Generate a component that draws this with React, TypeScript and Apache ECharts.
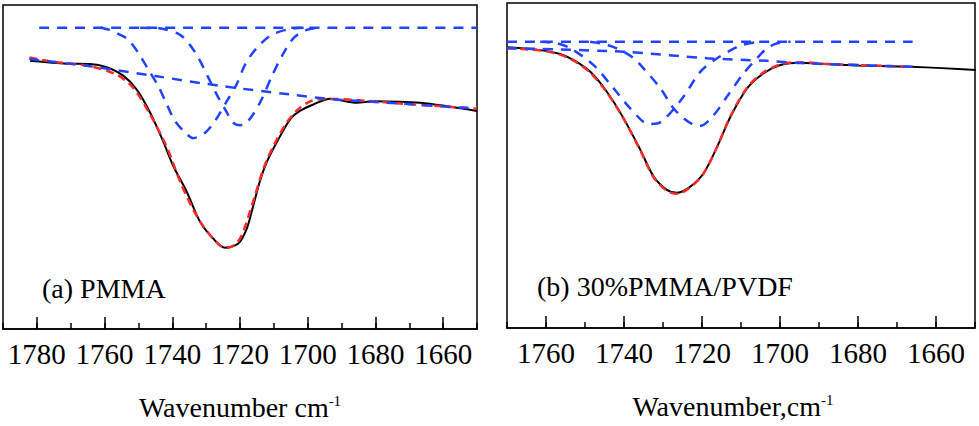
import React, { useEffect, useRef } from "react";
import * as echarts from "echarts";

// Panel (a) PMMA : [wavenumber cm-1, transmittance (a.u.)]
const pmmaMeasured: number[][] = [
  [1782, 82.8], [1771.2, 81.9], [1764.3, 81.8], [1759.4, 80.8], [1754.5, 78.2], [1750.5, 73.9],
  [1746.6, 66.9], [1742.6, 57.7], [1739.7, 50.3], [1735.7, 42.3], [1731.8, 33.1], [1727.9, 27.9],
  [1724.4, 25.1], [1720.5, 26.4], [1718, 31.0], [1716.1, 38.0], [1714.1, 45.7], [1712.1, 51.5],
  [1709.1, 57.7], [1705.2, 64.7], [1702.3, 67.3], [1698.3, 69.3], [1693.4, 71.1], [1685.5, 69.8],
  [1680.6, 70.3], [1666.8, 69.8], [1650.1, 67.3],
];
const pmmaFit: number[][] = [
  [1782.2, 83.8], [1776.1, 82.6], [1764.3, 81.1], [1756.4, 78.5], [1751.5, 74.4], [1746.6, 66.3],
  [1741.6, 56.1], [1737.2, 44.3], [1731.8, 33.2], [1725.4, 25.4], [1723.4, 25.1], [1720, 27.9],
  [1716.5, 38.1], [1713.1, 49.4], [1710.1, 56.5], [1706.2, 63.7], [1702.3, 68.3], [1697.3, 70.9],
  [1693.4, 71.0], [1672.7, 69.6], [1650.1, 68.0],
];
const pmmaBaseline: number[][] = [
  [1782.2, 83.3], [1764.3, 81.1], [1744.6, 78.0], [1724.9, 74.9], [1705.2, 72.4], [1693.4, 71.0],
  [1672.7, 69.6], [1650.1, 68.0],
];
const pmmaUpper: number[][] = [[1779.3, 93.0], [1650, 93.0]];
const pmmaPeak1: number[][] = [
  [1761.3, 93.0], [1758.4, 92.3], [1755.4, 90.8], [1753.0, 89.3], [1750.0, 85.2], [1747.1, 80.1],
  [1744.1, 74.9], [1741.6, 69.3], [1739.2, 64.2], [1735.7, 60.1], [1733.8, 58.9], [1730.3, 60.6],
  [1727.4, 64.2], [1723.9, 70.3], [1721.0, 75.5], [1718.5, 81.6], [1715.1, 86.7], [1710.6, 90.8],
  [1705.2, 92.6], [1699.3, 93.0],
];
const pmmaPeak2: number[][] = [
  [1749.5, 93.0], [1742.6, 92.6], [1737.7, 90.8], [1734.8, 87.7], [1732.3, 83.7], [1729.3, 77.5],
  [1726.9, 72.4], [1724.4, 67.8], [1722.0, 63.7], [1720.0, 62.9], [1718.5, 63.2], [1716.1, 66.3],
  [1713.6, 70.9], [1710.6, 78.0], [1707.7, 84.1], [1704.2, 89.8], [1700.3, 92.3], [1696.4, 93.0],
];

// Panel (b) 30%PMMA/PVDF
const blendMeasured: number[][] = [
  [1769.9, 86.4], [1761.5, 85.5], [1756.4, 84.3], [1753.0, 82.5], [1748.7, 78.9], [1744.4, 72.7],
  [1740.1, 64.5], [1735.8, 54.8], [1732.4, 46.6], [1729.0, 42.5], [1726.4, 41.6], [1723.0, 43.5],
  [1719.6, 47.6], [1716.1, 55.8], [1712.7, 65.0], [1708.4, 73.8], [1704.2, 78.4], [1699.9, 80.9],
  [1694.7, 81.6], [1688.8, 81.2], [1680.2, 80.8], [1666.5, 80.4], [1649.8, 79.4],
];
const blendFit: number[][] = [
  [1769.9, 86.1], [1761.5, 85.4], [1756.4, 84.1], [1753.0, 82.3], [1748.7, 78.6], [1744.4, 72.5],
  [1740.1, 64.4], [1735.8, 54.6], [1732.4, 46.3], [1729.0, 42.2], [1726.4, 41.3], [1723.0, 43.3],
  [1719.6, 47.5], [1716.1, 55.8], [1712.7, 65.2], [1708.4, 74.0], [1704.2, 78.7], [1699.9, 81.1],
  [1694.7, 81.8], [1688.8, 81.3], [1680.2, 80.9], [1666.3, 80.4],
];
const blendBaseline: number[][] = [
  [1770, 86.1], [1740.1, 85.0], [1718.7, 83.0], [1703.3, 82.2], [1694.7, 81.5], [1666.0, 80.4],
];
const blendUpper: number[][] = [[1770, 88.1], [1666, 88.1]];
const blendPeak1: number[][] = [
  [1761.5, 88.1], [1757.2, 87.6], [1753.8, 86.1], [1747.8, 80.9], [1742.7, 73.8], [1738.4, 67.6],
  [1733.7, 62.8], [1731.5, 62.9], [1729.0, 65.0], [1724.7, 71.2], [1720.4, 78.9], [1716.1, 83.0],
  [1710.1, 86.9], [1705.0, 88.1],
];
const blendPeak2: number[][] = [
  [1748.7, 88.1], [1746.1, 87.6], [1742.8, 86.5], [1740.1, 85.0], [1737.6, 83.1], [1735.0, 79.9],
  [1730.7, 73.8], [1727.3, 67.6], [1724.7, 64.5], [1722.1, 62.5], [1720.4, 62.2], [1717.0, 65.5],
  [1713.6, 71.2], [1709.3, 78.4], [1705.9, 83.0], [1703.3, 86.1], [1700.7, 87.6], [1697.3, 88.1],
];

const panelLabels = ["(a) PMMA", "(b) 30%PMMA/PVDF"];
const axisTitles = ["Wavenumber cm", "Wavenumber,cm"];
const axisRanges = [
  [1650, 1790],
  [1650, 1770],
];

const FONT = '"Liberation Serif", "Times New Roman", serif';
const BLUE = "#2244ff";
const RED = "#ff2a2a";

function majorAxis(gridIndex: number, range: number[], title: string, padRight: number) {
  return {
    type: "value",
    gridIndex,
    position: "bottom",
    min: range[0],
    max: range[1],
    inverse: true,
    splitNumber: 7,
    minInterval: 20,
    maxInterval: 20,
    axisLine: { show: true, lineStyle: { color: "#000", width: 1.5 } },
    axisTick: { show: true, inside: true, length: 12, lineStyle: { color: "#000", width: 1.5 } },
    splitLine: { show: false },
    axisLabel: {
      show: true,
      showMinLabel: false,
      showMaxLabel: false,
      margin: 10,
      color: "#000",
      fontSize: 29,
      fontFamily: FONT,
      formatter: (v: number) => String(v),
    },
    name: `{t|${title}}{s|-1}`,
    nameLocation: "middle",
    nameGap: 64,
    nameTextStyle: {
      padding: [0, padRight, 0, 0],
      rich: {
        t: { fontSize: 28, fontFamily: FONT, color: "#000" },
        s: { fontSize: 15, fontFamily: FONT, color: "#000", verticalAlign: "top" },
      },
    },
  };
}

function minorAxis(gridIndex: number, range: number[]) {
  return {
    type: "value",
    gridIndex,
    position: "bottom",
    offset: 0,
    min: range[0],
    max: range[1],
    interval: 10,
    inverse: true,
    axisLine: { show: false },
    axisTick: { show: true, inside: true, length: 6, lineStyle: { color: "#000", width: 1.5 } },
    axisLabel: { show: false },
    splitLine: { show: false },
  };
}

function lineSeries(data: number[][], xAxisIndex: number, yAxisIndex: number, kind: string) {
  const style =
    kind === "measured"
      ? { color: "#000", width: 2, type: "solid" }
      : kind === "fit"
      ? { color: RED, width: 2.5, type: [8, 5] }
      : { color: BLUE, width: 2.5, type: [10, 8] };
  return {
    type: "line",
    xAxisIndex,
    yAxisIndex,
    data,
    symbol: "none",
    showSymbol: false,
    smooth: 0.3,
    silent: true,
    lineStyle: style,
    z: kind === "measured" ? 2 : kind === "fit" ? 3 : 4,
  };
}

export default function App() {
  const ref = useRef<HTMLDivElement>(null);
  useEffect(() => {
    if (!ref.current) return;
    const chart = echarts.init(ref.current, undefined, { renderer: "svg" });
    const option: any = {
      animation: false,
      backgroundColor: "#fff",
      grid: [
        { left: 3, top: 5, width: 474, height: 326, show: true, borderColor: "#000", borderWidth: 1.5, backgroundColor: "transparent" },
        { left: 507, top: 3, width: 468, height: 325, show: true, borderColor: "#000", borderWidth: 1.5, backgroundColor: "transparent" },
      ],
      xAxis: [
        majorAxis(0, axisRanges[0], axisTitles[0], 0),
        minorAxis(0, axisRanges[0]),
        majorAxis(1, axisRanges[1], axisTitles[1], 16),
        minorAxis(1, axisRanges[1]),
      ],
      yAxis: [
        { type: "value", gridIndex: 0, min: 0, max: 100, show: false },
        { type: "value", gridIndex: 1, min: 0, max: 100, show: false },
      ],
      series: [
        lineSeries(pmmaMeasured, 0, 0, "measured"),
        lineSeries(pmmaFit, 0, 0, "fit"),
        lineSeries(pmmaBaseline, 0, 0, "component"),
        lineSeries(pmmaUpper, 0, 0, "component"),
        lineSeries(pmmaPeak1, 0, 0, "component"),
        lineSeries(pmmaPeak2, 0, 0, "component"),
        lineSeries(blendMeasured, 2, 1, "measured"),
        lineSeries(blendFit, 2, 1, "fit"),
        lineSeries(blendBaseline, 2, 1, "component"),
        lineSeries(blendUpper, 2, 1, "component"),
        lineSeries(blendPeak1, 2, 1, "component"),
        lineSeries(blendPeak2, 2, 1, "component"),
      ],
      graphic: [
        {
          type: "text",
          x: 42,
          y: 288,
          style: { text: panelLabels[0], fontSize: 28, fontFamily: FONT, fill: "#000", align: "left", verticalAlign: "middle" },
        },
        {
          type: "text",
          x: 537,
          y: 286,
          style: { text: panelLabels[1], fontSize: 28, fontFamily: FONT, fill: "#000", align: "left", verticalAlign: "middle" },
        },
      ],
    };
    chart.setOption(option);
    return () => chart.dispose();
  }, []);
  return <div ref={ref} style={{ position: "absolute", left: 0, top: 0, width: 979, height: 426 }} />;
}
